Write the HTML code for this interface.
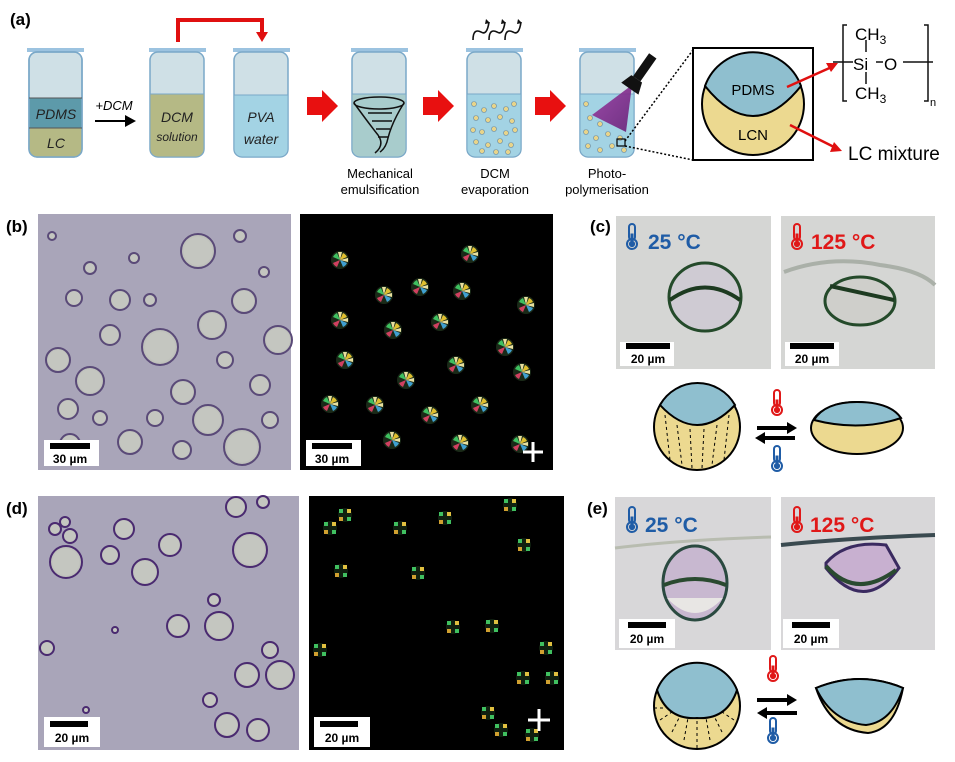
<!DOCTYPE html>
<html><head><meta charset="utf-8"><style>
html,body{margin:0;padding:0;background:#fff}
svg{display:block}
text{font-family:"Liberation Sans",sans-serif}
</style></head><body>
<svg width="955" height="762" viewBox="0 0 955 762" xmlns="http://www.w3.org/2000/svg">
<defs>
<radialGradient id="bub" cx="50%" cy="50%" r="50%"><stop offset="0.8" stop-color="#c4c6c0"/><stop offset="1" stop-color="#b8bab5"/></radialGradient>
<linearGradient id="uv" x1="0" y1="0" x2="1" y2="1"><stop offset="0" stop-color="#9a3aa0"/><stop offset="1" stop-color="#6a1f78"/></linearGradient>
<g id="mc"><circle r="9" fill="#1a2a18"/><path d="M-7,-3 A8,8 0 0 1 -3,-7 L0,0Z" fill="#3fc060"/><path d="M3,-7 A8,8 0 0 1 7,-3 L0,0Z" fill="#e0c030"/><path d="M7,3 A8,8 0 0 1 3,7 L0,0Z" fill="#40a0d0"/><path d="M-3,7 A8,8 0 0 1 -7,3 L0,0Z" fill="#d04060"/><path d="M-2,-8 L2,-8 L0,0Z M8,-2 L8,2 L0,0Z" fill="#e8e0a0"/></g>
<g id="mc2"><circle r="7" fill="#102010"/><rect x="-6" y="-6" width="4" height="4" fill="#40c060"/><rect x="2" y="-6" width="4" height="4" fill="#e0c040"/><rect x="-6" y="2" width="4" height="4" fill="#d0a030"/><rect x="2" y="2" width="4" height="4" fill="#40c060"/></g>
<g id="therm"><rect x="-3" y="-14" width="6" height="16" rx="3" fill="none" stroke-width="2"/><circle cx="0" cy="6" r="5" fill="none" stroke-width="2"/><circle cx="0" cy="6" r="2.6"/><rect x="-1" y="-4" width="2" height="8"/></g>
</defs>
<rect width="955" height="762" fill="#fff"/>

<!-- (a) -->
<text x="10" y="25" font-size="17" font-weight="bold">(a)</text>
<g stroke="#7aa8c8" stroke-width="1.5">
<rect x="27" y="48" width="57" height="4" fill="#9cc3e0" stroke="none"/>
<rect x="29" y="52" width="53" height="105" rx="8" fill="#cfe0e6"/>
<path d="M29,98 H82 V128 H29Z" fill="#5d9aaa" stroke="none"/>
<path d="M29,128 H82 V149 a8,8 0 0 1 -8,8 H37 a8,8 0 0 1 -8,-8Z" fill="#b5b985" stroke="none"/>
<rect x="29" y="52" width="53" height="105" rx="8" fill="none"/>
</g>
<line x1="29" y1="128" x2="82" y2="128" stroke="#555"/><line x1="29" y1="98" x2="82" y2="98" stroke="#555"/>
<text x="56" y="119" font-size="14" font-style="italic" text-anchor="middle" fill="#222">PDMS</text>
<text x="56" y="148" font-size="14" font-style="italic" text-anchor="middle" fill="#222">LC</text>
<text x="114" y="110" font-size="13" font-style="italic" text-anchor="middle">+DCM</text>
<path d="M95,120 H125 V115 L136,121 L125,127 V122 H95Z" fill="#000"/>
<rect x="149" y="48" width="57" height="4" fill="#9cc3e0"/>
<rect x="150" y="52" width="54" height="105" rx="8" fill="#cfe0e6" stroke="#7aa8c8" stroke-width="1.5"/>
<path d="M150,94 H204 V149 a8,8 0 0 1 -8,8 H158 a8,8 0 0 1 -8,-8Z" fill="#b5b985" stroke="#7aa8c8"/>
<text x="177" y="122" font-size="14" font-style="italic" text-anchor="middle" fill="#222">DCM</text>
<text x="177" y="141" font-size="12" font-style="italic" text-anchor="middle" fill="#222">solution</text>
<rect x="233" y="48" width="57" height="4" fill="#9cc3e0"/>
<rect x="234" y="52" width="54" height="105" rx="8" fill="#cfe0e6" stroke="#7aa8c8" stroke-width="1.5"/>
<path d="M234,95 H288 V149 a8,8 0 0 1 -8,8 H242 a8,8 0 0 1 -8,-8Z" fill="#a3d3e4" stroke="#7aa8c8"/>
<text x="261" y="122" font-size="14" font-style="italic" text-anchor="middle" fill="#222">PVA</text>
<text x="261" y="144" font-size="14" font-style="italic" text-anchor="middle" fill="#222">water</text>
<path d="M178,42 V20 H262 V34" fill="none" stroke="#e01010" stroke-width="4"/>
<path d="M256,32 L268,32 L262,42Z" fill="#e01010"/>
<g fill="#e81010"><path d="M307,97 H322 V90 L338,106 L322,122 V115 H307Z"/><path d="M423,97 H438 V90 L454,106 L438,122 V115 H423Z"/><path d="M535,97 H550 V90 L566,106 L550,122 V115 H535Z"/></g>
<rect x="351" y="48" width="57" height="4" fill="#9cc3e0"/>
<rect x="352" y="52" width="54" height="105" rx="8" fill="#cfe0e6" stroke="#7aa8c8" stroke-width="1.5"/>
<path d="M352,94 H406 V149 a8,8 0 0 1 -8,8 H360 a8,8 0 0 1 -8,-8Z" fill="#a8cccc" stroke="#7aa8c8"/>
<g fill="none" stroke="#111" stroke-width="1.5"><ellipse cx="379" cy="103" rx="25" ry="6"/><path d="M354,103 Q370,125 378,135 Q385,145 375,153"/><path d="M404,103 Q392,122 388,138 Q386,148 380,152"/><path d="M368,113 H392 M372,121 H392 M376,129 H390 M378,137 H388"/></g>
<text x="380" y="178" font-size="13" text-anchor="middle">Mechanical</text>
<text x="380" y="194" font-size="13" text-anchor="middle">emulsification</text>
<rect x="466" y="48" width="57" height="4" fill="#9cc3e0"/>
<rect x="467" y="52" width="54" height="105" rx="8" fill="#cfe0e6" stroke="#7aa8c8" stroke-width="1.5"/>
<path d="M467,94 H521 V149 a8,8 0 0 1 -8,8 H475 a8,8 0 0 1 -8,-8Z" fill="#a3d3e4" stroke="#7aa8c8"/>
<g fill="#e8d48a" stroke="#6a8aa0" stroke-width="0.6">
<circle cx="474" cy="104" r="2.5"/><circle cx="484" cy="110" r="2.5"/><circle cx="494" cy="106" r="2.5"/><circle cx="506" cy="109" r="2.5"/><circle cx="514" cy="104" r="2.5"/><circle cx="476" cy="118" r="2.5"/><circle cx="488" cy="120" r="2.5"/><circle cx="500" cy="117" r="2.5"/><circle cx="512" cy="121" r="2.5"/><circle cx="473" cy="130" r="2.5"/><circle cx="482" cy="132" r="2.5"/><circle cx="494" cy="129" r="2.5"/><circle cx="506" cy="133" r="2.5"/><circle cx="515" cy="130" r="2.5"/><circle cx="476" cy="142" r="2.5"/><circle cx="488" cy="145" r="2.5"/><circle cx="500" cy="141" r="2.5"/><circle cx="511" cy="145" r="2.5"/><circle cx="482" cy="151" r="2.5"/><circle cx="496" cy="152" r="2.5"/><circle cx="508" cy="152" r="2.5"/></g>
<g fill="none" stroke="#111" stroke-width="1.6"><path d="M473,40 q0,-12 8,-8 q6,4 8,-10"/><path d="M489,40 q0,-12 8,-8 q6,4 8,-10"/><path d="M505,40 q0,-12 8,-8 q6,4 8,-10"/></g>
<g fill="#111"><path d="M486,19 l4,4 l-5,1z"/><path d="M502,19 l4,4 l-5,1z"/><path d="M518,19 l4,4 l-5,1z"/></g>
<text x="495" y="178" font-size="13" text-anchor="middle">DCM</text>
<text x="495" y="194" font-size="13" text-anchor="middle">evaporation</text>
<rect x="579" y="48" width="57" height="4" fill="#9cc3e0"/>
<rect x="580" y="52" width="54" height="105" rx="8" fill="#cfe0e6" stroke="#7aa8c8" stroke-width="1.5"/>
<path d="M580,94 H634 V149 a8,8 0 0 1 -8,8 H588 a8,8 0 0 1 -8,-8Z" fill="#a3d3e4" stroke="#7aa8c8"/>
<path d="M632,85 L592,115 L626,132Z" fill="url(#uv)" opacity="0.9"/>
<g fill="#e8d48a" stroke="#6a8aa0" stroke-width="0.6">
<circle cx="586" cy="104" r="2.5"/><circle cx="590" cy="118" r="2.5"/><circle cx="600" cy="124" r="2.5"/><circle cx="586" cy="132" r="2.5"/><circle cx="596" cy="138" r="2.5"/><circle cx="608" cy="134" r="2.5"/><circle cx="620" cy="138" r="2.5"/><circle cx="588" cy="146" r="2.5"/><circle cx="600" cy="150" r="2.5"/><circle cx="612" cy="146" r="2.5"/><circle cx="624" cy="150" r="2.5"/></g>
<rect x="617" y="139" width="8" height="7" fill="none" stroke="#000" stroke-width="1.2"/>
<g transform="rotate(35 640 75)"><rect x="635" y="52" width="9" height="28" fill="#111"/><path d="M633,80 H646 L650,92 H629Z" fill="#111"/></g>
<text x="607" y="178" font-size="13" text-anchor="middle">Photo-</text>
<text x="607" y="194" font-size="13" text-anchor="middle">polymerisation</text>
<path d="M625,141 L693,50 M625,146 L693,160" stroke="#000" stroke-width="1.5" stroke-dasharray="2,2"/>
<rect x="693" y="48" width="120" height="112" fill="#fff" stroke="#000" stroke-width="2"/>
<circle cx="753" cy="104" r="51" fill="#ecd990" stroke="#000" stroke-width="2"/>
<path d="M705,86 A51,51 0 0 1 801,86 Q753,146 705,86Z" fill="#8fbfcf" stroke="#000" stroke-width="2"/>
<text x="753" y="95" font-size="15" text-anchor="middle">PDMS</text>
<text x="753" y="140" font-size="15" text-anchor="middle">LCN</text>
<g stroke="#e01010" stroke-width="2.5" fill="#e01010"><line x1="787" y1="87" x2="834" y2="66"/><path d="M838,63 L826,63 L831,72Z" stroke="none"/><line x1="790" y1="125" x2="838" y2="149"/><path d="M842,151 L830,152 L834,142Z" stroke="none"/></g>
<text x="848" y="160" font-size="19">LC mixture</text>
<g stroke="#111" stroke-width="1.5" fill="none"><path d="M847,25 H843 V101 H847"/><path d="M924,25 H928 V101 H924"/><line x1="833" y1="62" x2="853" y2="62"/><line x1="876" y1="62" x2="883" y2="62"/><line x1="903" y1="62" x2="933" y2="62"/><line x1="866" y1="40" x2="866" y2="52"/><line x1="866" y1="72" x2="866" y2="84"/></g>
<text x="855" y="40" font-size="17">CH<tspan font-size="12" dy="4">3</tspan></text>
<text x="853" y="70" font-size="17">Si</text>
<text x="884" y="70" font-size="17">O</text>
<text x="855" y="99" font-size="17">CH<tspan font-size="12" dy="4">3</tspan></text>
<text x="930" y="106" font-size="11">n</text>

<!-- (b) -->
<text x="6" y="232" font-size="17" font-weight="bold">(b)</text>
<rect x="38" y="214" width="253" height="256" fill="#a9a5b9"/>
<g fill="url(#bub)" stroke="#5a4a78" stroke-width="2">
<circle cx="198" cy="251" r="17"/><circle cx="120" cy="300" r="10"/><circle cx="74" cy="298" r="8"/><circle cx="58" cy="360" r="12"/><circle cx="90" cy="381" r="14"/><circle cx="68" cy="409" r="10"/><circle cx="160" cy="347" r="18"/><circle cx="110" cy="335" r="10"/><circle cx="212" cy="325" r="14"/><circle cx="244" cy="301" r="12"/><circle cx="278" cy="340" r="14"/><circle cx="183" cy="392" r="12"/><circle cx="260" cy="385" r="10"/><circle cx="208" cy="420" r="15"/><circle cx="242" cy="447" r="18"/><circle cx="130" cy="442" r="12"/><circle cx="70" cy="444" r="10"/><circle cx="100" cy="418" r="7"/><circle cx="155" cy="418" r="8"/><circle cx="182" cy="450" r="9"/><circle cx="270" cy="420" r="8"/><circle cx="134" cy="258" r="5"/><circle cx="90" cy="268" r="6"/><circle cx="240" cy="236" r="6"/><circle cx="264" cy="272" r="5"/><circle cx="52" cy="236" r="4"/><circle cx="150" cy="300" r="6"/><circle cx="225" cy="360" r="8"/></g>
<rect x="44" y="440" width="55" height="26" fill="#fff"/><rect x="50" y="443" width="40" height="6" fill="#000"/>
<text x="70" y="463" font-size="12" font-weight="bold" text-anchor="middle">30 µm</text>
<rect x="300" y="214" width="253" height="256" fill="#000"/>
<g>
<use href="#mc" x="470" y="254"/><use href="#mc" x="420" y="287"/><use href="#mc" x="384" y="295"/><use href="#mc" x="462" y="291"/><use href="#mc" x="345" y="360"/><use href="#mc" x="340" y="320"/><use href="#mc" x="393" y="330"/><use href="#mc" x="440" y="322"/><use href="#mc" x="505" y="347"/><use href="#mc" x="522" y="372"/><use href="#mc" x="456" y="365"/><use href="#mc" x="406" y="380"/><use href="#mc" x="375" y="405"/><use href="#mc" x="430" y="415"/><use href="#mc" x="480" y="405"/><use href="#mc" x="520" y="444"/><use href="#mc" x="460" y="443"/><use href="#mc" x="392" y="440"/><use href="#mc" x="330" y="404"/><use href="#mc" x="340" y="260"/><use href="#mc" x="526" y="305"/></g>
<rect x="306" y="440" width="55" height="26" fill="#fff"/><rect x="312" y="443" width="40" height="6" fill="#000"/>
<text x="332" y="463" font-size="12" font-weight="bold" text-anchor="middle">30 µm</text>
<g stroke="#fff" stroke-width="3" fill="#fff"><line x1="523" y1="452" x2="543" y2="452"/><line x1="533" y1="442" x2="533" y2="462"/></g>

<!-- (c) -->
<text x="590" y="232" font-size="17" font-weight="bold">(c)</text>
<rect x="616" y="216" width="155" height="153" fill="#d5d6d4"/>
<rect x="781" y="216" width="154" height="153" fill="#d5d6d4"/>
<ellipse cx="705" cy="297" rx="36" ry="34" fill="#cfcbd3" stroke="#244a2a" stroke-width="3"/>
<path d="M670,300 Q705,275 740,300" fill="none" stroke="#1d3a20" stroke-width="4"/>
<path d="M784,272 Q830,255 880,265 Q920,270 935,285" fill="none" stroke="#aab0a8" stroke-width="4"/>
<ellipse cx="860" cy="301" rx="35" ry="24" fill="#cfcfcb" stroke="#244a2a" stroke-width="3"/>
<line x1="830" y1="286" x2="894" y2="300" stroke="#1d3a20" stroke-width="4"/>
<g fill="#1f5ca6" stroke="#1f5ca6" transform="translate(632,238)"><use href="#therm"/></g>
<text x="648" y="249" font-size="21" font-weight="bold" fill="#1f5ca6">25 °C</text>
<g fill="#e01818" stroke="#e01818" transform="translate(797,238)"><use href="#therm"/></g>
<text x="811" y="249" font-size="21" font-weight="bold" fill="#e01818">125 °C</text>
<rect x="620" y="342" width="54" height="24" fill="#fff"/><rect x="626" y="343" width="44" height="6" fill="#000"/>
<text x="648" y="363" font-size="12" font-weight="bold" text-anchor="middle">20 µm</text>
<rect x="785" y="342" width="54" height="24" fill="#fff"/><rect x="790" y="343" width="44" height="6" fill="#000"/>
<text x="812" y="363" font-size="12" font-weight="bold" text-anchor="middle">20 µm</text>
<circle cx="697" cy="427" r="43" fill="#ecd990" stroke="#000" stroke-width="2"/>
<path d="M660,405 A43,43 0 0 1 735,405 Q697,445 660,405Z" fill="#8fbfcf" stroke="#000" stroke-width="2"/>
<g stroke="#000" stroke-width="1" stroke-dasharray="3,3"><line x1="665" y1="415" x2="670" y2="460"/><line x1="677" y1="425" x2="682" y2="465"/><line x1="690" y1="429" x2="692" y2="468"/><line x1="704" y1="429" x2="702" y2="468"/><line x1="717" y1="425" x2="712" y2="465"/><line x1="729" y1="415" x2="724" y2="460"/></g>
<ellipse cx="857" cy="428" rx="46" ry="26" fill="#ecd990" stroke="#000" stroke-width="2"/>
<path d="M814,420 Q825,402 857,402 Q890,402 901,418 Q860,432 814,420Z" fill="#8fbfcf" stroke="#000" stroke-width="2"/>
<g fill="#e01818" stroke="#e01818" transform="translate(777,404)"><use href="#therm"/></g>
<g fill="#1f5ca6" stroke="#1f5ca6" transform="translate(777,460)"><use href="#therm"/></g>
<path d="M757,426 H787 V422 L797,428 L787,434 V430 H757Z" fill="#000"/>
<path d="M795,436 H765 V432 L755,438 L765,444 V440 H795Z" fill="#000"/>

<!-- (d) -->
<text x="6" y="514" font-size="17" font-weight="bold">(d)</text>
<rect x="38" y="496" width="261" height="254" fill="#a9a5b9"/>
<g fill="url(#bub)" stroke="#4a2a70" stroke-width="2">
<circle cx="65" cy="522" r="5"/><circle cx="70" cy="536" r="7"/><circle cx="55" cy="529" r="6"/><circle cx="124" cy="529" r="10"/><circle cx="110" cy="555" r="9"/><circle cx="170" cy="545" r="11"/><circle cx="236" cy="507" r="10"/><circle cx="263" cy="502" r="6"/><circle cx="66" cy="562" r="16"/><circle cx="145" cy="572" r="13"/><circle cx="250" cy="550" r="17"/><circle cx="214" cy="600" r="6"/><circle cx="178" cy="626" r="11"/><circle cx="219" cy="626" r="14"/><circle cx="47" cy="648" r="7"/><circle cx="270" cy="650" r="8"/><circle cx="247" cy="675" r="12"/><circle cx="280" cy="675" r="14"/><circle cx="210" cy="700" r="7"/><circle cx="227" cy="725" r="12"/><circle cx="258" cy="730" r="11"/><circle cx="86" cy="710" r="3"/><circle cx="115" cy="630" r="3"/></g>
<rect x="44" y="717" width="56" height="30" fill="#fff"/><rect x="50" y="721" width="38" height="6" fill="#000"/>
<text x="72" y="742" font-size="12" font-weight="bold" text-anchor="middle">20 µm</text>
<rect x="309" y="496" width="255" height="254" fill="#000"/>
<g><use href="#mc2" x="345" y="515"/><use href="#mc2" x="330" y="528"/><use href="#mc2" x="400" y="528"/><use href="#mc2" x="445" y="518"/><use href="#mc2" x="510" y="505"/><use href="#mc2" x="524" y="545"/><use href="#mc2" x="341" y="571"/><use href="#mc2" x="418" y="573"/><use href="#mc2" x="453" y="627"/><use href="#mc2" x="492" y="626"/><use href="#mc2" x="320" y="650"/><use href="#mc2" x="546" y="648"/><use href="#mc2" x="523" y="678"/><use href="#mc2" x="552" y="678"/><use href="#mc2" x="488" y="713"/><use href="#mc2" x="501" y="730"/><use href="#mc2" x="532" y="735"/></g>
<rect x="314" y="717" width="56" height="30" fill="#fff"/><rect x="320" y="721" width="38" height="6" fill="#000"/>
<text x="342" y="742" font-size="12" font-weight="bold" text-anchor="middle">20 µm</text>
<g stroke="#fff" stroke-width="3"><line x1="528" y1="720" x2="550" y2="720"/><line x1="539" y1="709" x2="539" y2="731"/></g>

<!-- (e) -->
<text x="587" y="514" font-size="17" font-weight="bold">(e)</text>
<rect x="615" y="497" width="156" height="153" fill="#d8d7d9"/>
<rect x="781" y="497" width="154" height="153" fill="#d8d7d9"/>
<path d="M615,548 Q680,540 771,537" fill="none" stroke="#b8bcb0" stroke-width="3"/>
<ellipse cx="695" cy="583" rx="32" ry="37" fill="#c8b8d0" stroke="#2a4a40" stroke-width="3"/>
<path d="M664,585 Q695,573 726,585" fill="none" stroke="#2a4a30" stroke-width="4"/>
<path d="M667,598 Q695,628 723,598" fill="#e8e6e4" stroke="none"/>
<path d="M781,545 Q850,538 935,535" fill="none" stroke="#3a4a50" stroke-width="4"/>
<path d="M826,563 Q846,540 886,545 L899,568 Q864,615 826,568Z" fill="#c8b0d0" stroke="#3a2a60" stroke-width="3"/>
<path d="M826,566 Q856,600 896,570" fill="none" stroke="#2a4a30" stroke-width="4"/>
<g fill="#1f5ca6" stroke="#1f5ca6" transform="translate(632,521)"><use href="#therm"/></g>
<text x="645" y="532" font-size="21" font-weight="bold" fill="#1f5ca6">25 °C</text>
<g fill="#e01818" stroke="#e01818" transform="translate(797,521)"><use href="#therm"/></g>
<text x="810" y="532" font-size="21" font-weight="bold" fill="#e01818">125 °C</text>
<rect x="619" y="619" width="56" height="29" fill="#fff"/><rect x="628" y="622" width="38" height="6" fill="#000"/>
<text x="647" y="643" font-size="12" font-weight="bold" text-anchor="middle">20 µm</text>
<rect x="783" y="619" width="56" height="29" fill="#fff"/><rect x="792" y="622" width="38" height="6" fill="#000"/>
<text x="811" y="643" font-size="12" font-weight="bold" text-anchor="middle">20 µm</text>
<circle cx="697" cy="706" r="43" fill="#ecd990" stroke="#000" stroke-width="2"/>
<path d="M657,690 A43,43 0 0 1 737,690 Q727,720 697,718 Q667,720 657,690Z" fill="#8fbfcf" stroke="#000" stroke-width="2"/>
<g stroke="#000" stroke-width="1" stroke-dasharray="3,3"><line x1="654" y1="708" x2="665" y2="708"/><line x1="660" y1="720" x2="672" y2="712"/><line x1="672" y1="732" x2="680" y2="716"/><line x1="684" y1="740" x2="688" y2="718"/><line x1="697" y1="748" x2="697" y2="719"/><line x1="710" y1="740" x2="706" y2="718"/><line x1="722" y1="732" x2="714" y2="716"/><line x1="734" y1="720" x2="722" y2="712"/></g>
<path d="M816,688 Q860,670 903,688 Q895,730 868,733 Q830,730 816,688Z" fill="#ecd990" stroke="#000" stroke-width="2"/>
<path d="M816,688 Q860,670 903,688 Q892,722 866,725 Q832,722 816,688Z" fill="#8fbfcf" stroke="#000" stroke-width="2"/>
<g fill="#e01818" stroke="#e01818" transform="translate(773,670)"><use href="#therm"/></g>
<g fill="#1f5ca6" stroke="#1f5ca6" transform="translate(773,732)"><use href="#therm"/></g>
<path d="M757,698 H787 V694 L797,700 L787,706 V702 H757Z" fill="#000"/>
<path d="M797,711 H767 V707 L757,713 L767,719 V715 H797Z" fill="#000"/>
</svg>
</body></html>
